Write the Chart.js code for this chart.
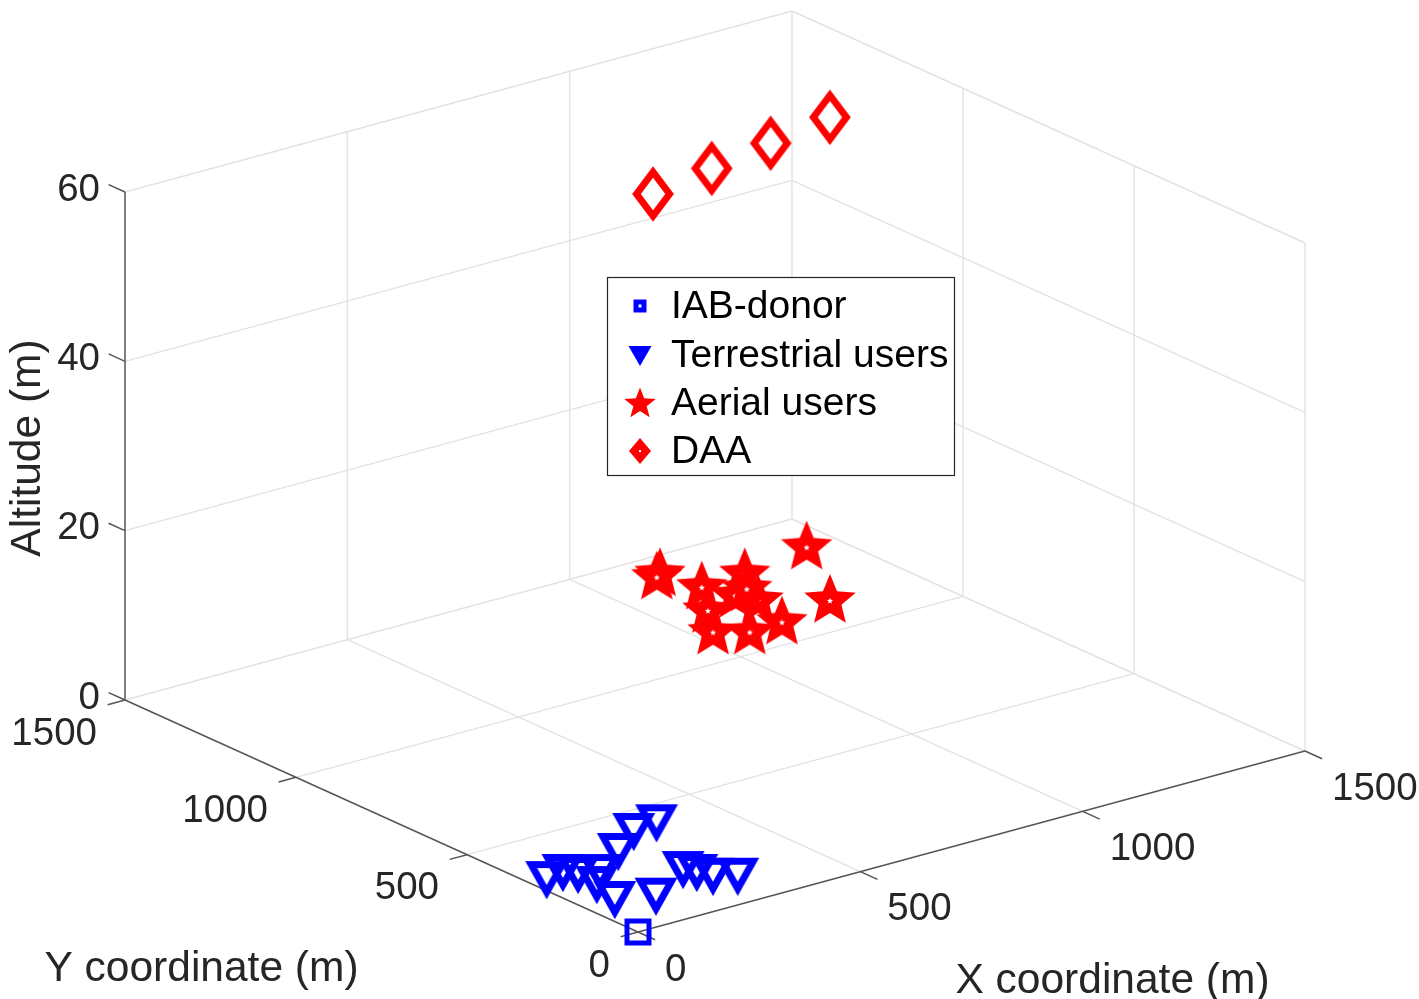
<!DOCTYPE html>
<html>
<head>
<meta charset="utf-8">
<title>IAB network layout</title>
<script src="https://cdn.jsdelivr.net/npm/chart.js@4.4.0/dist/chart.umd.min.js"></script>
<style>
  html, body { margin: 0; padding: 0; background: #fff; overflow: hidden; }
  #wrap { width: 1419px; height: 999px; }
</style>
</head>
<body>
<div id="wrap"><canvas id="layoutChart" width="1419" height="999"></canvas></div>
<script>
// Axis ticks
const xTicks = [0, 500, 1000, 1500];
const yTicks = [0, 500, 1000, 1500];
const zTicks = [0, 20, 40, 60];

// IAB-donor (m)
const donorX = [0];
const donorY = [0];
const donorZ = [0];

// Terrestrial users (m), on the ground
const terrX = [364, 305, 221, 33, 78, 88, 67, 130, 135, 256, 266, 277, 312, 93];
const terrY = [419, 409, 345, 310, 321, 235, 155, 280, 123, 201, 174, 141, 114, 296];
const terrZ = [0, 0, 0, 0, 0, 0, 0, 0, 0, 0, 0, 0, 0, 0];

// Aerial users (m)
const aerX = [751, 736, 768, 1040, 907, 870, 704, 644, 696, 772, 806, 789, 826];
const aerY = [912, 902, 812, 859, 618, 819, 711, 618, 578, 583, 697, 742, 756];
const aerZ = [15, 15, 15, 15, 15, 15, 15, 15, 15, 15, 15, 15, 15];

// DAA (m)
const daaX = [736, 898, 1059, 1223];
const daaY = [913, 952, 989, 1029];
const daaZ = [60, 60, 60, 60];

const W = 1419, H = 999;
const xMax = 1500, yMax = 1500, zMax = 60;

// fixed 3-D view: screen position of origin and of each axis' full length
const view = { ox: 638, oy: 932, xdx: 667, xdy: -181, ydx: -513, ydy: -232, zdy: -508 };

function proj(x, y, z) {
    return {
        x: view.ox + view.xdx * x / xMax + view.ydx * y / yMax,
        y: view.oy + view.xdy * x / xMax + view.ydy * y / yMax + view.zdy * z / zMax
    };
}

function toPoints(xs, ys, zs) {
    return xs.map((v, i) => proj(v, ys[i], zs[i]));
}

// marker images
function makeCanvas(w, h, draw) {
    const c = document.createElement('canvas');
    c.width = w;
    c.height = h;
    const g = c.getContext('2d');
    draw(g, w / 2, h / 2);
    return c;
}

function starPath(g, cx, cy, R, r) {
    g.beginPath();
    for (let i = 0; i < 10; i++) {
        const rad = (i % 2 === 0) ? R : r;
        const a = -Math.PI / 2 + i * Math.PI / 5;
        const px = cx + rad * Math.cos(a), py = cy + rad * Math.sin(a);
        if (i === 0) g.moveTo(px, py); else g.lineTo(px, py);
    }
    g.closePath();
}

const BLUE = '#0000ff', RED = '#ff0000';

const squareMark = makeCanvas(34, 34, (g, cx, cy) => {
    g.strokeStyle = BLUE; g.lineWidth = 5; g.lineJoin = 'miter';
    g.strokeRect(cx - 11, cy - 11, 22, 22);
});
const triMark = makeCanvas(54, 50, (g, cx, cy) => {
    g.strokeStyle = BLUE; g.lineWidth = 7; g.lineJoin = 'miter';
    g.beginPath();
    g.moveTo(cx - 15.5, cy - 15.5);
    g.lineTo(cx + 15.5, cy - 15.5);
    g.lineTo(cx, cy + 12);
    g.closePath();
    g.stroke();
});
const starMark = makeCanvas(62, 62, (g, cx, cy) => {
    g.fillStyle = RED;
    starPath(g, cx, cy + 1, 27, 12);
    g.fill();
    g.fillStyle = '#fff';
    starPath(g, cx, cy + 1, 3.2, 1.4);
    g.fill();
});
const diamondMark = makeCanvas(52, 66, (g, cx, cy) => {
    g.strokeStyle = RED; g.lineWidth = 7; g.lineJoin = 'miter';
    g.beginPath();
    g.moveTo(cx, cy - 22);
    g.lineTo(cx + 16.5, cy);
    g.lineTo(cx, cy + 22);
    g.lineTo(cx - 16.5, cy);
    g.closePath();
    g.stroke();
});

// legend glyphs
const legSquare = makeCanvas(20, 20, (g, cx, cy) => {
    g.strokeStyle = BLUE; g.lineWidth = 5;
    g.strokeRect(cx - 4, cy - 4, 8, 8);
});
const legTri = makeCanvas(28, 26, (g, cx, cy) => {
    g.fillStyle = BLUE;
    g.beginPath();
    g.moveTo(cx - 11.5, cy - 9);
    g.lineTo(cx + 11.5, cy - 9);
    g.lineTo(cx, cy + 11);
    g.closePath();
    g.fill();
});
const legStar = makeCanvas(36, 36, (g, cx, cy) => {
    g.fillStyle = RED;
    starPath(g, cx, cy + 1, 16.5, 7);
    g.fill();
});
const legDiamond = makeCanvas(26, 30, (g, cx, cy) => {
    g.fillStyle = RED;
    g.beginPath();
    g.moveTo(cx, cy - 13);
    g.lineTo(cx + 11, cy);
    g.lineTo(cx, cy + 13);
    g.lineTo(cx - 11, cy);
    g.closePath();
    g.fill();
    g.fillStyle = '#fff';
    g.fillRect(cx - 1, cy - 1, 2, 2);
});

// box, grid and axis segments in data space
const gridSegs = [];
xTicks.forEach(v => {
    if (v > 0) {
        gridSegs.push([[v, 0, 0], [v, yMax, 0]]);
        gridSegs.push([[v, yMax, 0], [v, yMax, zMax]]);
    }
});
yTicks.forEach(v => {
    if (v > 0) gridSegs.push([[0, v, 0], [xMax, v, 0]]);
    if (v < yMax) gridSegs.push([[xMax, v, 0], [xMax, v, zMax]]);
});
zTicks.forEach(v => {
    if (v > 0) {
        gridSegs.push([[0, yMax, v], [xMax, yMax, v]]);
        gridSegs.push([[xMax, 0, v], [xMax, yMax, v]]);
    }
});

const axisSegs = [
    [[0, 0, 0], [xMax, 0, 0]],
    [[0, 0, 0], [0, yMax, 0]],
    [[0, yMax, 0], [0, yMax, zMax]]
];
xTicks.forEach(v => axisSegs.push([[v, 0, 0], [v, -50, 0]]));
yTicks.forEach(v => axisSegs.push([[0, v, 0], [-39, v, 0]]));
zTicks.forEach(v => axisSegs.push([[0, yMax, v], [0, yMax + 48, v]]));

function segDataset(seg, color, width, order) {
    return {
        data: seg.map(p => proj(p[0], p[1], p[2])),
        showLine: true,
        borderColor: color,
        borderWidth: width,
        pointRadius: 0,
        fill: false,
        order: order
    };
}

const datasets = [];
gridSegs.forEach(s => datasets.push(segDataset(s, '#e2e2e2', 1.4, 30)));
axisSegs.forEach(s => datasets.push(segDataset(s, '#555555', 1.5, 20)));

datasets.push({ label: 'Terrestrial users', data: toPoints(terrX, terrY, terrZ), pointStyle: triMark, pointRadius: 10, order: 3 });
datasets.push({ label: 'IAB-donor', data: toPoints(donorX, donorY, donorZ), pointStyle: squareMark, pointRadius: 10, order: 2 });
datasets.push({ label: 'Aerial users', data: toPoints(aerX, aerY, aerZ), pointStyle: starMark, pointRadius: 10, order: 1 });
datasets.push({ label: 'DAA', data: toPoints(daaX, daaY, daaZ), pointStyle: diamondMark, pointRadius: 10, order: 0 });

const legendItems = [
    { text: 'IAB-donor', glyph: legSquare },
    { text: 'Terrestrial users', glyph: legTri },
    { text: 'Aerial users', glyph: legStar },
    { text: 'DAA', glyph: legDiamond }
];

const FONT = '"Liberation Sans", Arial, Helvetica, sans-serif';

const textPlugin = {
    id: 'axesText',
    afterDraw(chart) {
        const ctx = chart.ctx;
        const sx = chart.scales.x, sy = chart.scales.y;
        const px = p => ({ x: sx.getPixelForValue(p.x), y: sy.getPixelForValue(p.y) });
        ctx.save();
        ctx.fillStyle = '#262626';
        ctx.textBaseline = 'middle';
        ctx.font = '38.5px ' + FONT;

        ctx.textAlign = 'left';
        xTicks.forEach(v => {
            const p = px(proj(v, 0, 0));
            ctx.fillText(String(v), p.x + 27, p.y + 38);
        });
        ctx.textAlign = 'right';
        yTicks.forEach(v => {
            const p = px(proj(0, v, 0));
            ctx.fillText(String(v), p.x - 28, p.y + 34);
        });
        zTicks.forEach(v => {
            const p = px(proj(0, yMax, v));
            ctx.fillText(String(v), p.x - 25, p.y - 2);
        });

        // axis titles
        ctx.font = '42.5px ' + FONT;
        ctx.textAlign = 'center';
        let p = px(proj(xMax / 2, 0, 0));
        ctx.fillText('X coordinate (m)', p.x + 141, p.y + 140);
        p = px(proj(0, yMax / 2, 0));
        ctx.fillText('Y coordinate (m)', p.x - 180, p.y + 153);
        p = px(proj(0, yMax, zMax / 2));
        ctx.save();
        ctx.translate(p.x - 97, p.y + 2);
        ctx.rotate(-Math.PI / 2);
        ctx.fillText('Altitude (m)', 0, 0);
        ctx.restore();

        // legend
        const lx = 607.5, ly = 277.5, lw = 347, lh = 198;
        ctx.fillStyle = '#ffffff';
        ctx.fillRect(lx, ly, lw, lh);
        ctx.strokeStyle = '#262626';
        ctx.lineWidth = 1.2;
        ctx.strokeRect(lx, ly, lw, lh);
        ctx.font = '39px ' + FONT;
        ctx.textAlign = 'left';
        ctx.fillStyle = '#000000';
        const rows = [307, 356, 404, 452];
        legendItems.forEach((it, i) => {
            const g = it.glyph;
            ctx.drawImage(g, 640 - g.width / 2, rows[i] - 1 - g.height / 2);
            ctx.fillText(it.text, 671, rows[i]);
        });
        ctx.restore();
    }
};

const layoutChart = new Chart(document.getElementById('layoutChart').getContext('2d'), {
    type: 'scatter',
    data: { datasets: datasets },
    options: {
        responsive: false,
        animation: false,
        layout: { padding: 0, autoPadding: false },
        scales: {
            x: { type: 'linear', min: 0, max: W, display: false },
            y: { type: 'linear', min: 0, max: H, reverse: true, display: false }
        },
        plugins: {
            legend: { display: false },
            tooltip: { enabled: false }
        }
    },
    plugins: [textPlugin]
});
</script>
</body>
</html>
